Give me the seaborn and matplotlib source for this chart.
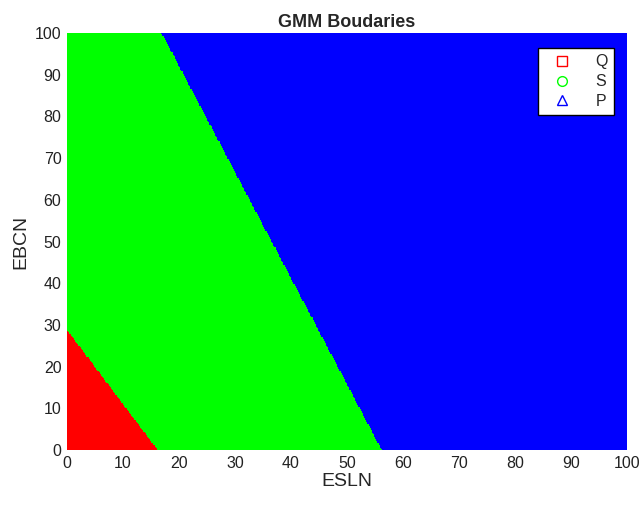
import numpy as np
import pandas as pd
import matplotlib
matplotlib.use("Agg")
import matplotlib.pyplot as plt
import seaborn as sns
from matplotlib.lines import Line2D

# ---- data ----
classes = ["Q", "S", "P"]
class_colors = ["#ff0000", "#00ff00", "#0000ff"]
legend_markers = ["s", "o", "^"]
# decision boundary Q|S : passes through these two points (ESLN, EBCN)
qs_x = [0.0, 16.3]
qs_y = [29.0, 0.0]
# decision boundary S|P
sp_x = [17.0, 56.3]
sp_y = [100.0, 0.0]
x_ticks = [0, 10, 20, 30, 40, 50, 60, 70, 80, 90, 100]
y_ticks = [0, 10, 20, 30, 40, 50, 60, 70, 80, 90, 100]

sns.set_style("white")
plt.rcParams["font.family"] = ["Liberation Sans", "DejaVu Sans"]

# grid of ESLN x EBCN
g = np.arange(0, 100.001, 0.2)
X, Y = np.meshgrid(g, g)
X = X.ravel(); Y = Y.ravel()

def side(x, y, lx, ly):
    return (x - lx[0]) * (ly[1] - ly[0]) - (y - ly[0]) * (lx[1] - lx[0])

s1 = side(X, Y, qs_x, qs_y)
s2 = side(X, Y, sp_x, sp_y)
ref1 = side(0, 0, qs_x, qs_y)
ref2 = side(0, 0, sp_x, sp_y)
lab = np.where(np.sign(s1) == np.sign(ref1), "Q",
               np.where(np.sign(s2) == np.sign(ref2), "S", "P"))
df = pd.DataFrame({"ESLN": X, "EBCN": Y, "cls": lab})

fig = plt.figure(figsize=(6.41, 5.31), dpi=100)
ax = fig.add_axes([67 / 641, 1 - 450 / 531, 560 / 641, 417 / 531])
sns.scatterplot(data=df, x="ESLN", y="EBCN", hue="cls", hue_order=classes,
                palette=class_colors, marker="s", s=1.6, linewidth=0,
                legend=False, ax=ax, rasterized=True)
ax.set_xlim(0, 100)
ax.set_ylim(0, 100)
ax.set_xticks(x_ticks)
ax.set_yticks(y_ticks)
ax.tick_params(labelsize=11.5, length=0, pad=4, labelcolor="#222222")
ax.set_xlabel("ESLN", fontsize=14, labelpad=2)
ax.set_ylabel("EBCN", fontsize=14, labelpad=4)
ax.set_title("GMM Boudaries", fontsize=13, fontweight="bold", pad=4)
for sp in ax.spines.values():
    sp.set_visible(False)

handles = [Line2D([], [], linestyle="none", marker=m, markerfacecolor="none",
                  markeredgecolor=c, markersize=7, markeredgewidth=1)
           for m, c in zip(legend_markers, class_colors)]
leg = ax.legend(handles, classes, loc="upper right",
                bbox_to_anchor=(0.977, 0.964), borderaxespad=0,
                fancybox=False, framealpha=1, edgecolor="black",
                fontsize=11.5, handletextpad=1.0, labelspacing=0.3,
                borderpad=0.4, handlelength=2.2)
leg.get_frame().set_linewidth(1.0)

fig.savefig("out.png", dpi=100)
